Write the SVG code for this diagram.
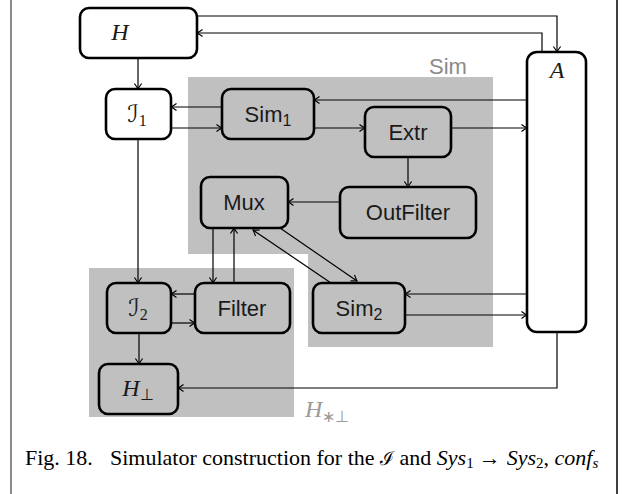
<svg xmlns="http://www.w3.org/2000/svg" width="625" height="494" viewBox="0 0 625 494">
  <style>
    .node rect { stroke: #000; stroke-width: 2.6; }
    .white rect { fill: #fff; }
    .grey rect { fill: #c0c0c0; }
    .sans { font-family: "Liberation Sans", Arial, sans-serif; font-size: 22px; fill: #1a1a1a; text-anchor: middle; }
    .math { font-family: "Liberation Serif", "DejaVu Serif", serif; font-style: italic; font-size: 24px; fill: #1a1a1a; text-anchor: middle; }
    .cal { font-family: "DejaVu Serif", "DejaVu Sans", serif; font-style: normal; }
    .sub { font-size: 16px; font-style: normal; font-family: "Liberation Serif", serif; }
    .ssub { font-size: 16px; }
    .region { fill: #c0c0c0; }
    .label { font-family: "Liberation Sans", Arial, sans-serif; font-size: 22px; fill: #8a8a8a; }
    .mlabel { font-family: "Liberation Serif", serif; font-style: italic; font-size: 24px; fill: #9a9a9a; }
    .edges path { fill: none; stroke: #000; stroke-width: 1.2; }
    .arr { marker-end: url(#tip); }
    .caption { font-family: "Liberation Serif", "Times New Roman", serif; font-size: 22px; fill: #000; }
  </style>
  <defs>
    <marker id="tip" viewBox="-7 -5 8 10" markerWidth="8" markerHeight="10" refX="0" refY="0" orient="auto" markerUnits="userSpaceOnUse">
      <path d="M-5.5,-3.6 Q-1.8,-0.9 0,0 Q-1.8,0.9 -5.5,3.6" fill="none" stroke="#000" stroke-width="1.2"/>
    </marker>
  </defs>

  <rect width="625" height="494" fill="#fff"/>

  <!-- page frame -->
  <line x1="11" y1="0" x2="11" y2="494" stroke="#8a8a8a" stroke-width="2"/>
  <line x1="617" y1="0" x2="617" y2="494" stroke="#000" stroke-width="1.5"/>

  <!-- shaded groupings -->
  <g id="region-sim">
    <path class="region" d="M188,77 H493 V347 H308 V254 H188 Z"/>
    <text class="label" x="448" y="74" text-anchor="middle">Sim</text>
  </g>
  <g id="region-hbot">
    <rect class="region" x="89" y="268" width="205" height="149"/>
    <text class="mlabel" x="305" y="417">H<tspan class="ssub" dy="5" font-style="normal">∗⊥</tspan></text>
  </g>

  <!-- connectors -->
  <g class="edges">
    <path class="arr" d="M197,16 H557 V52"/>
    <path class="arr" d="M542,52 V33 H197"/>
    <path class="arr" d="M138,58 V89"/>
    <path class="arr" d="M222,107 H171"/>
    <path class="arr" d="M171,128 H222"/>
    <path class="arr" d="M527,100 H314"/>
    <path class="arr" d="M314,128 H365"/>
    <path class="arr" d="M451,128 H527"/>
    <path class="arr" d="M408,157 V187"/>
    <path class="arr" d="M340,202 H288"/>
    <path class="arr" d="M138,139 V283"/>
    <path class="arr" d="M213,228 V283"/>
    <path class="arr" d="M234,283 V228"/>
    <path class="arr" d="M280,228 L357,281"/>
    <path class="arr" d="M331,283 L253,230"/>
    <path class="arr" d="M195,294 H171"/>
    <path class="arr" d="M171,323 H195"/>
    <path class="arr" d="M139,333 V364"/>
    <path class="arr" d="M527,294 H405"/>
    <path class="arr" d="M405,315 H527"/>
    <path class="arr" d="M557,332 V388 H178"/>
  </g>

  <!-- nodes -->
  <g id="H" class="node white">
    <rect x="80" y="8" width="117" height="50" rx="9"/>
    <text class="math" x="120" y="40">H</text>
  </g>
  <g id="I1" class="node white">
    <rect x="106" y="89" width="65" height="50" rx="9"/>
    <text class="math" x="137" y="122"><tspan class="cal">ℐ</tspan><tspan class="sub" dy="4">1</tspan></text>
  </g>
  <g id="A" class="node white">
    <rect x="527" y="52" width="59" height="280" rx="10"/>
    <text class="math" x="557" y="78">A</text>
  </g>
  <g id="Sim1" class="node grey">
    <rect x="222" y="89" width="92" height="50" rx="9"/>
    <text class="sans" x="268" y="122">Sim<tspan class="ssub" dy="4">1</tspan></text>
  </g>
  <g id="Extr" class="node grey">
    <rect x="365" y="107" width="86" height="50" rx="9"/>
    <text class="sans" x="408" y="140">Extr</text>
  </g>
  <g id="Mux" class="node grey">
    <rect x="201" y="177" width="87" height="51" rx="9"/>
    <text class="sans" x="244" y="210">Mux</text>
  </g>
  <g id="OutFilter" class="node grey">
    <rect x="340" y="187" width="136" height="51" rx="9"/>
    <text class="sans" x="408" y="220">OutFilter</text>
  </g>
  <g id="I2" class="node grey">
    <rect x="107" y="283" width="64" height="50" rx="9"/>
    <text class="math" x="138" y="316"><tspan class="cal">ℐ</tspan><tspan class="sub" dy="4">2</tspan></text>
  </g>
  <g id="Filter" class="node grey">
    <rect x="195" y="283" width="95" height="50" rx="9"/>
    <text class="sans" x="242" y="316">Filter</text>
  </g>
  <g id="Sim2" class="node grey">
    <rect x="313" y="283" width="92" height="50" rx="9"/>
    <text class="sans" x="359" y="316">Sim<tspan class="ssub" dy="4">2</tspan></text>
  </g>
  <g id="Hbot" class="node grey">
    <rect x="99" y="364" width="79" height="50" rx="9"/>
    <text class="math" x="138" y="396">H<tspan class="sub" dy="4">⊥</tspan></text>
  </g>

  <!-- caption -->
  <text class="caption" x="25" y="465" font-size="20">Fig. 18.</text>
  <text class="caption" x="110" y="465">Simulator construction for the <tspan font-family="DejaVu Serif, serif" font-size="19">ℐ</tspan> and <tspan font-style="italic">Sys</tspan><tspan font-size="15" dy="3">1</tspan><tspan dy="-3" dx="5">→</tspan><tspan dx="6" font-style="italic">Sys</tspan><tspan font-size="15" dy="3">2</tspan><tspan dy="-3">, </tspan><tspan font-style="italic">conf</tspan><tspan font-style="italic" font-size="15" dy="3">s</tspan></text>
</svg>
